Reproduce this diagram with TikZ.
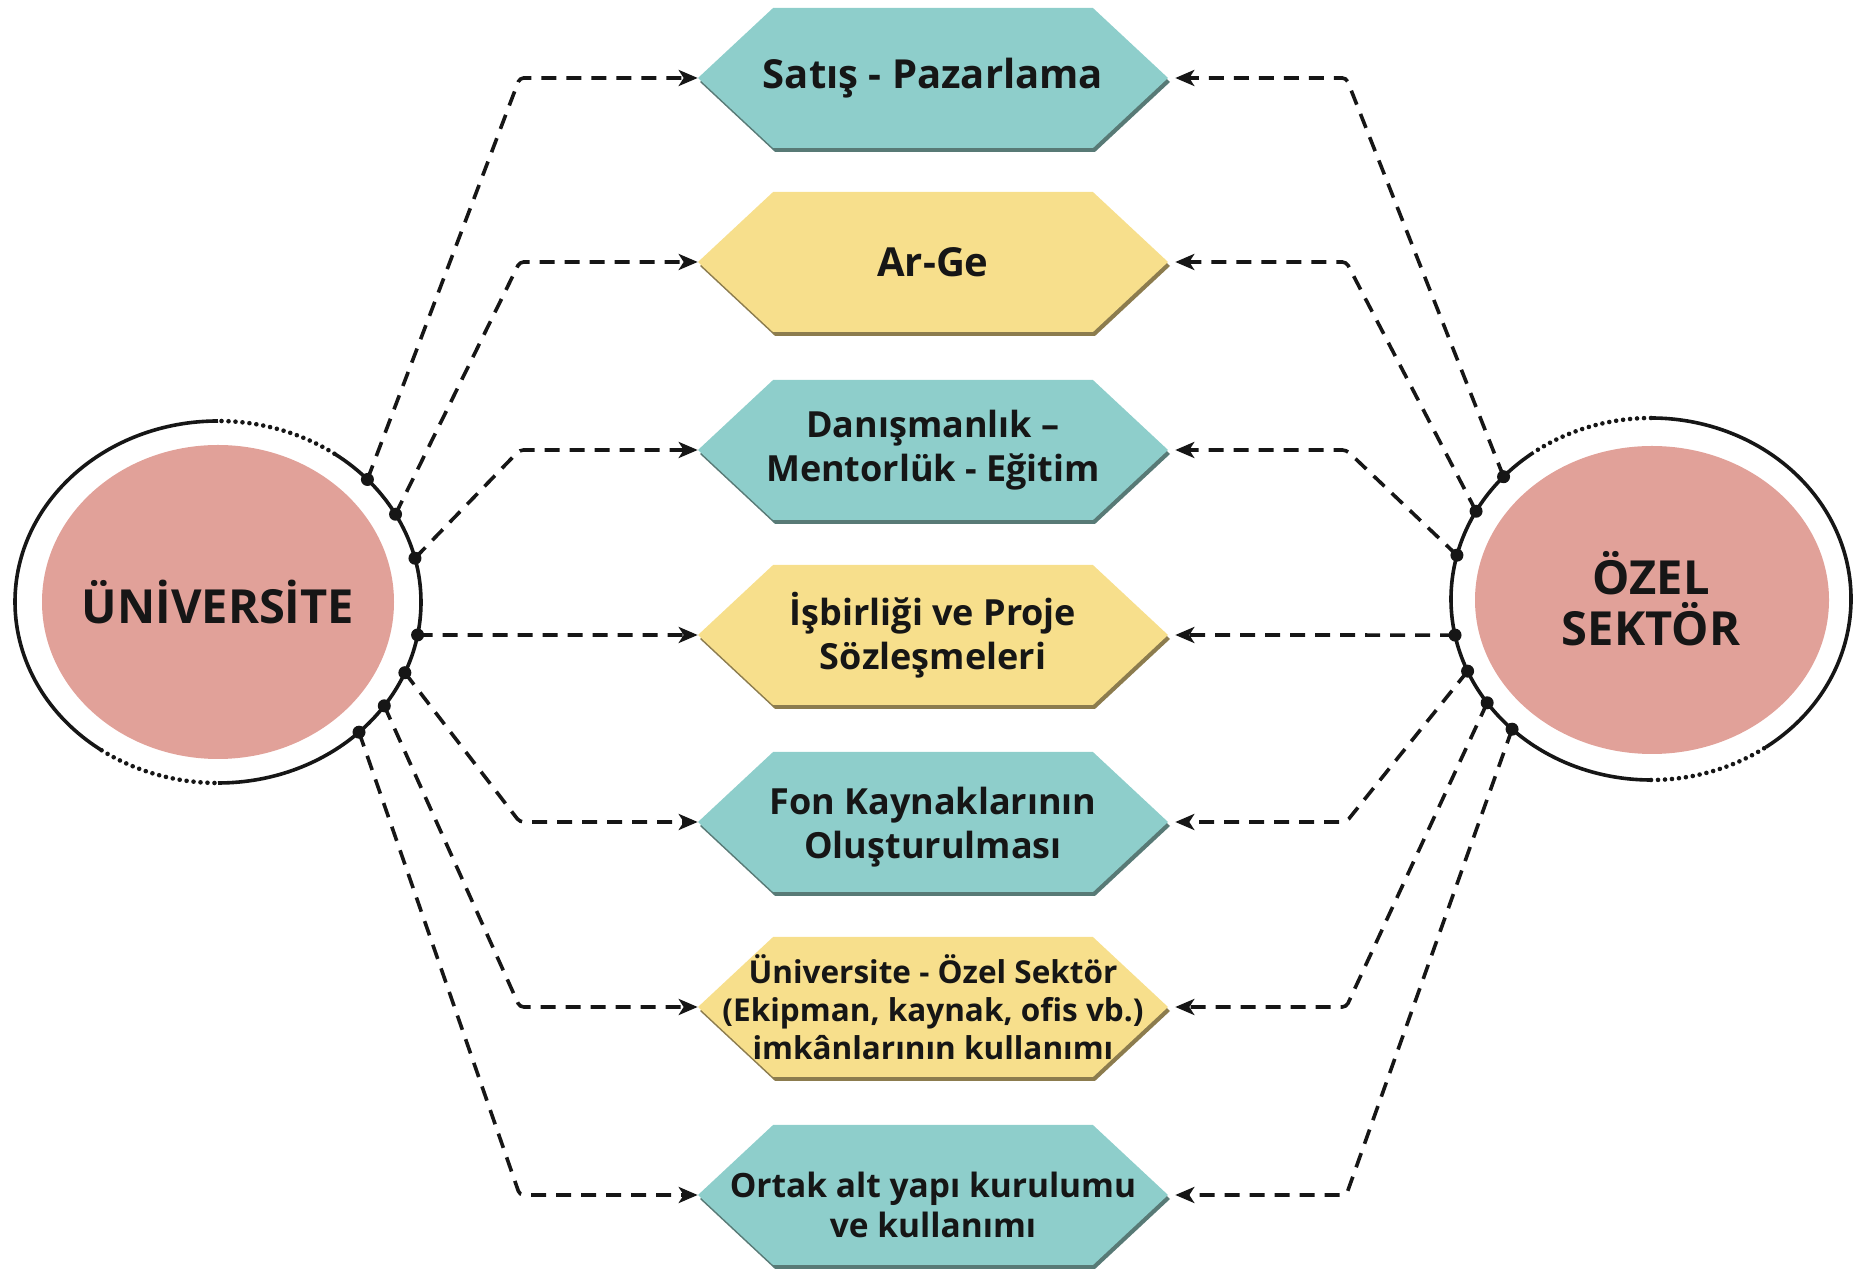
\documentclass[tikz,border=0pt]{standalone}
\usepackage{fontspec}
\setmainfont{Open Sans}
\usetikzlibrary{shapes.symbols,arrows.meta,shadows}

\definecolor{tealbox}{RGB}{142,206,203}
\definecolor{tealshade}{RGB}{88,122,118}
\definecolor{yellowbox}{RGB}{247,223,140}
\definecolor{yellowshade}{RGB}{140,124,78}
\definecolor{pinkcirc}{RGB}{225,161,153}
\definecolor{inkline}{RGB}{22,22,22}

\tikzset{
    hexbox/.style={signal, signal to=east and west, signal pointer angle=86,
        minimum width=470pt, minimum height=140pt, inner ysep=0pt, inner xsep=-70pt,
        align=center, text=inkline, font=\bfseries\fontsize{36}{44}\selectfont},
    tealhex/.style={hexbox, fill=tealbox,
        general shadow={fill=tealshade, shadow xshift=2pt, shadow yshift=-4pt}},
    yellowhex/.style={hexbox, fill=yellowbox,
        general shadow={fill=yellowshade, shadow xshift=2pt, shadow yshift=-4pt}},
    bigtext/.style={font=\bfseries\fontsize{40}{44}\selectfont},
    partner/.style={align=center, text=inkline, font=\bfseries\fontsize{47}{51}\selectfont},
    link/.style={draw=inkline, line width=3.6pt, dash pattern=on 15pt off 10pt,
        rounded corners=4pt, -{Stealth[length=19pt,width=16pt,inset=5pt]}},
    ring/.style={draw=inkline, line width=3.6pt},
    ringdots/.style={draw=inkline, line width=4.6pt, line cap=round, dash pattern=on 0pt off 7pt}
}

\begin{document}
\begin{tikzpicture}[x=1pt,y=1pt]
    \useasboundingbox (0,0) rectangle (1858,1269);

    % the two partners
    \fill[pinkcirc] (218,667) ellipse [x radius=176, y radius=157];
    \fill[pinkcirc] (1652,669) ellipse [x radius=177, y radius=154];
    \node[partner] (uni) at (218,667) {ÜNİVERSİTE};
    \node[partner] (ozel) at (1651,670) {ÖZEL\\SEKTÖR};

    % rings round them, partly dotted
    \draw[ring] (uni.center) ++(90:203 and 181) arc[start angle=90, end angle=235, x radius=203, y radius=181];
    \draw[ring] (uni.center) ++(270:203 and 181) arc[start angle=270, end angle=415, x radius=203, y radius=181];
    \draw[ringdots] (uni.center) ++(55:203 and 181) arc[start angle=55, end angle=90, x radius=203, y radius=181];
    \draw[ringdots] (uni.center) ++(235:203 and 181) arc[start angle=235, end angle=270, x radius=203, y radius=181];

    \draw[ring] (ozel.center) ++(126:200 and 181) arc[start angle=126, end angle=270, x radius=200, y radius=181];
    \draw[ring] (ozel.center) ++(305:200 and 181) arc[start angle=305, end angle=450, x radius=200, y radius=181];
    \draw[ringdots] (ozel.center) ++(90:200 and 181) arc[start angle=90, end angle=126, x radius=200, y radius=181];
    \draw[ringdots] (ozel.center) ++(270:200 and 181) arc[start angle=270, end angle=305, x radius=200, y radius=181];

    % the fields of cooperation
    \node[tealhex, bigtext] (sales) at (933,1191) {Satış - Pazarlama};
    \node[yellowhex, bigtext] (rnd) at (933,1007) {Ar-Ge};
    \node[tealhex] (mentor) at (933,819) {Danışmanlık –\\Mentorlük - Eğitim};
    \node[yellowhex] (coop) at (933,634) {İşbirliği ve Proje\\Sözleşmeleri};
    \node[tealhex] (fund) at (933,447) {\rule{0pt}{38pt}Fon Kaynaklarının\\Oluşturulması};
    \node[yellowhex, font=\bfseries\fontsize{31.5}{38}\selectfont] (share) at (933,262)
        {Üniversite - Özel Sektör\\(Ekipman, kaynak, ofis vb.)\\imkânlarının kullanımı};
    \node[tealhex, font=\bfseries\fontsize{33.5}{40}\selectfont] (infra) at (933,74)
        {\rule{0pt}{46pt}Ortak alt yapı kurulumu\\ve kullanımı};

    % points on the rings
    \foreach \a [count=\i] in {42.6,29,14,-10.5,-23,-35,-46}
        \path (uni.center) ++(\a:203 and 181) coordinate (u\i);
    \foreach \a [count=\i] in {137.5,151,166,191.5,203.5,215,226}
        \path (ozel.center) ++(\a:200 and 181) coordinate (o\i);

    % dashed arrows from both sides
    \foreach \i/\f in {1/sales,2/rnd,3/mentor,5/fund,6/share,7/infra} {
        \draw[link] (u\i) -- ([xshift=-178pt]\f.west) -- (\f.west);
        \draw[link, shorten >=7pt] (o\i) -- ([xshift=178pt]\f.east) -- (\f.east);
    }
    \draw[link] (u4) -- (coop.west);
    \draw[link, shorten >=7pt] (o4) -- (coop.east);

    \foreach \i in {1,...,7} {
        \fill[inkline] (u\i) circle (6.5);
        \fill[inkline] (o\i) circle (6.5);
    }
\end{tikzpicture}
\end{document}
